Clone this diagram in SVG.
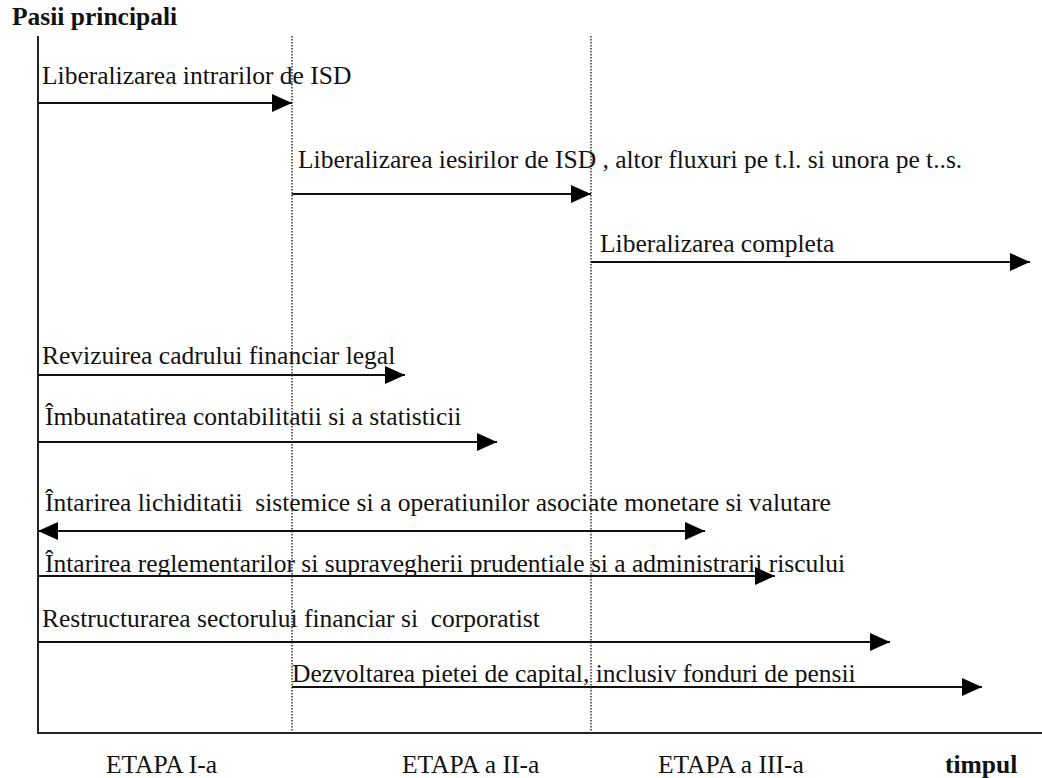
<svg xmlns="http://www.w3.org/2000/svg" width="1042" height="778" viewBox="0 0 1042 778">
<style>
text{font-family:'Liberation Serif','Times New Roman',Tinos,'DejaVu Serif',serif;font-size:25.5px;fill:#111}
.b{font-weight:bold}
.ax{stroke:#222;stroke-width:2;fill:none}
.dot{stroke:#333;stroke-width:1.5;stroke-dasharray:1.5 1.5;fill:none}
.ar{stroke:#111;stroke-width:2;fill:none;marker-end:url(#ah)}
</style>
<defs>
<marker id="ah" markerUnits="userSpaceOnUse" markerWidth="20" markerHeight="18" refX="20" refY="9" orient="auto-start-reverse"><path d="M0,0 L20,9 L0,18 z" fill="#000"/></marker>
</defs>
<rect width="1042" height="778" fill="#fff"/>
<g id="axes">
<text class="b" x="12" y="25">Pasii principali</text>
<line class="ax" x1="38" y1="36" x2="38" y2="733"/>
<line class="ax" x1="37" y1="733" x2="1042" y2="733"/>
<line class="dot" x1="292" y1="36" x2="292" y2="733"/>
<line class="dot" x1="591" y1="36" x2="591" y2="733"/>
</g>
<g id="connectors">
<line class="ar" x1="38" y1="103" x2="292" y2="103"/>
<line class="ar" x1="292" y1="194" x2="591" y2="194"/>
<line class="ar" x1="591" y1="262" x2="1030" y2="262"/>
<line class="ar" x1="38" y1="375" x2="405" y2="375"/>
<line class="ar" x1="38" y1="442" x2="497" y2="442"/>
<line class="ar" x1="38" y1="531" x2="705" y2="531" style="marker-start:url(#ah)"/>
<line class="ar" x1="38" y1="576" x2="775" y2="576"/>
<line class="ar" x1="38" y1="642" x2="890" y2="642"/>
<line class="ar" x1="292" y1="687" x2="982" y2="687"/>
</g>
<g id="n1"><text x="42" y="84">Liberalizarea intrarilor de ISD</text></g>
<g id="n2"><text x="298" y="168">Liberalizarea iesirilor de ISD , altor fluxuri pe t.l. si unora pe t..s.</text></g>
<g id="n3"><text x="600" y="252">Liberalizarea completa</text></g>
<g id="n4"><text x="42" y="364">Revizuirea cadrului financiar legal</text></g>
<g id="n5"><text x="45" y="425">Îmbunatatirea contabilitatii si a statisticii</text></g>
<g id="n6"><text x="45" y="511" xml:space="preserve">Întarirea lichiditatii  sistemice si a operatiunilor asociate monetare si valutare</text></g>
<g id="n7"><text x="45" y="572">Întarirea reglementarilor si supravegherii prudentiale si a administrarii riscului</text></g>
<g id="n8"><text x="42" y="627" xml:space="preserve">Restructurarea sectorului financiar si  corporatist</text></g>
<g id="n9"><text x="292" y="682">Dezvoltarea pietei de capital, inclusiv fonduri de pensii</text></g>
<g id="labels">
<text x="106" y="773">ETAPA I-a</text>
<text x="402" y="773">ETAPA a II-a</text>
<text x="658" y="773">ETAPA a III-a</text>
<text class="b" x="945" y="773">timpul</text>
</g>
</svg>
